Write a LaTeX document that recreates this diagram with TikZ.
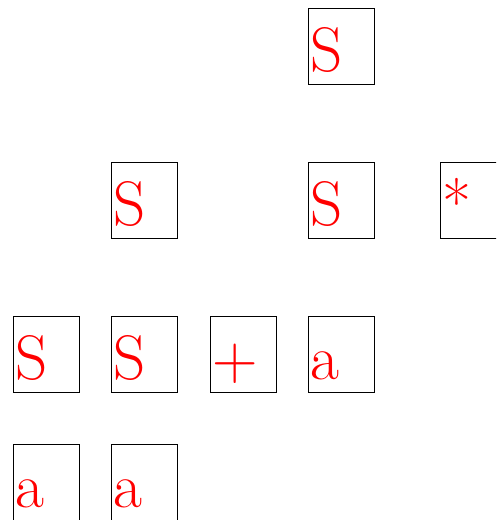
\documentclass[tikz,border=0pt]{standalone}
\usetikzlibrary{positioning}

\begin{document}
\begin{tikzpicture}[x=1pt, y=-1pt,
    cell/.style={rectangle, draw, line width=1.2pt, anchor=north west, inner xsep=2pt, inner ysep=0pt,
        text width=62pt, align=left, text height=63pt, text depth=13pt, text=red,
        font=\rmfamily\fontsize{63}{63}\selectfont}]

    \useasboundingbox (0,0) rectangle (496,520);
    \clip (0,0) rectangle (496,520);

    % Top level
    \node [cell] (root) at (308,8) {S};

    % Second level
    \node [cell] (s1) at (111,162) {S};
    \node [cell] (s2) at (308,162) {S};
    \node [cell] (star) at (440,162) {*};

    % Third level
    \node [cell] (s3) at (13,316) {S};
    \node [cell] (s4) at (111,316) {S};
    \node [cell] (plus) at (210,316) {+};
    \node [cell] (a1) at (308,316) {a};

    % Leaves
    \node [cell] (a2) at (13,444) {a};
    \node [cell] (a3) at (111,444) {a};

\end{tikzpicture}
\end{document}
